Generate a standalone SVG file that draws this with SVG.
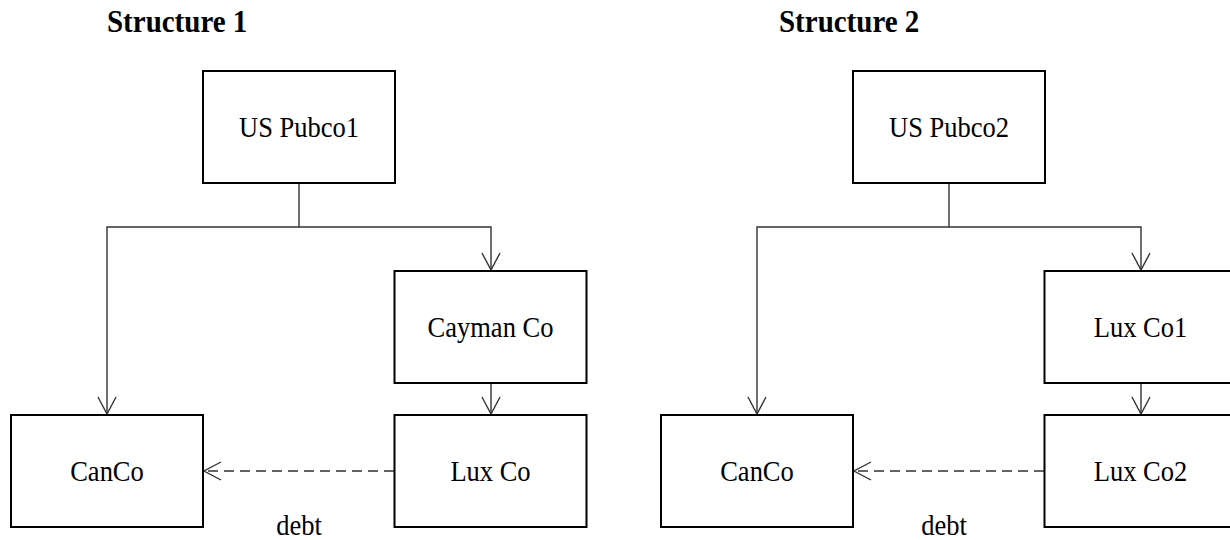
<svg xmlns="http://www.w3.org/2000/svg" width="1230" height="540" viewBox="0 0 1230 540">
<defs>
<style>
.box{fill:#fff;stroke:#000;stroke-width:2}
.lbl{font-family:"Liberation Serif","Times New Roman",serif;font-size:26.5px;fill:#000;text-anchor:middle}
.title{font-family:"Liberation Serif","Times New Roman",serif;font-size:29px;font-weight:bold;fill:#000}
.conn{fill:none;stroke:#333;stroke-width:1.4}
.dash{stroke-dasharray:10 6}
</style>
<marker id="arr" markerUnits="userSpaceOnUse" markerWidth="22" markerHeight="22" viewBox="-19 -11 22 22" refX="0" refY="0" orient="auto">
<path d="M-17,-9 L0,0 L-17,9" fill="none" stroke="#333" stroke-width="1.4"/>
</marker>
</defs>
<rect width="1230" height="540" fill="#fff"/>
<text class="title" transform="translate(107,31.5) scale(1,1.07)">Structure 1</text>
<text class="title" transform="translate(779,31.5) scale(1,1.07)">Structure 2</text>
<g id="connectors">
<path class="conn" d="M299,183 V227"/>
<path class="conn" d="M299,227 H107 V414" marker-end="url(#arr)"/>
<path class="conn" d="M299,227 H491 V270" marker-end="url(#arr)"/>
<path class="conn" d="M491,383 V414" marker-end="url(#arr)"/>
<path class="conn dash" d="M394,471 H204" marker-end="url(#arr)"/>
<path class="conn" d="M949,183 V227"/>
<path class="conn" d="M949,227 H757 V414" marker-end="url(#arr)"/>
<path class="conn" d="M949,227 H1141 V270" marker-end="url(#arr)"/>
<path class="conn" d="M1141,383 V414" marker-end="url(#arr)"/>
<path class="conn dash" d="M1044,471 H854" marker-end="url(#arr)"/>
</g>
<g id="uspubco1"><rect class="box" x="203" y="71" width="192" height="112"/><text class="lbl" transform="translate(299,137) scale(1,1.13)">US Pubco1</text></g>
<g id="canco1"><rect class="box" x="11" y="415" width="192" height="112"/><text class="lbl" transform="translate(107,481) scale(1,1.13)">CanCo</text></g>
<g id="caymanco"><rect class="box" x="394.5" y="271" width="192" height="112"/><text class="lbl" transform="translate(490.5,337) scale(1,1.13)">Cayman Co</text></g>
<g id="luxco"><rect class="box" x="394.5" y="415" width="192" height="112"/><text class="lbl" transform="translate(490.5,481) scale(1,1.13)">Lux Co</text></g>
<text class="lbl" transform="translate(299,535) scale(1,1.13)">debt</text>
<g id="uspubco2"><rect class="box" x="853" y="71" width="192" height="112"/><text class="lbl" transform="translate(949,137) scale(1,1.13)">US Pubco2</text></g>
<g id="canco2"><rect class="box" x="661" y="415" width="192" height="112"/><text class="lbl" transform="translate(757,481) scale(1,1.13)">CanCo</text></g>
<g id="luxco1"><rect class="box" x="1044.5" y="271" width="192" height="112"/><text class="lbl" transform="translate(1140.5,337) scale(1,1.13)">Lux Co1</text></g>
<g id="luxco2"><rect class="box" x="1044.5" y="415" width="192" height="112"/><text class="lbl" transform="translate(1140.5,481) scale(1,1.13)">Lux Co2</text></g>
<text class="lbl" transform="translate(944,535) scale(1,1.13)">debt</text>
</svg>
